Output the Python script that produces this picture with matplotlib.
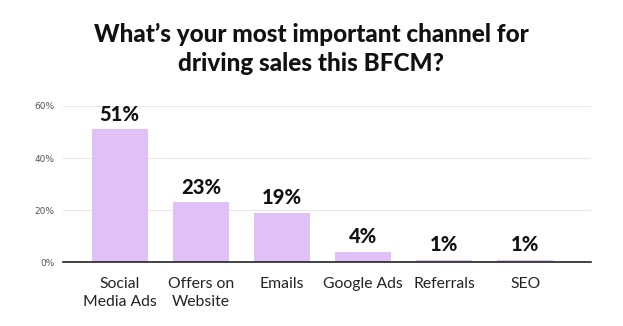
import matplotlib
matplotlib.use("Agg")
import matplotlib.pyplot as plt
from matplotlib.ticker import FuncFormatter

categories = ["Social\nMedia Ads", "Offers on\nWebsite", "Emails", "Google Ads", "Referrals", "SEO"]
values = [51, 23, 19, 4, 1, 1]
yticks = [0, 20, 40, 60]

title = "What\u2019s your most important channel for\ndriving sales this BFCM?"

fig = plt.figure(figsize=(6.23, 3.26), dpi=100)
fig.patch.set_facecolor("white")
ax = fig.add_axes([0.101, 0.196, 0.848, 0.479])

x = list(range(len(categories)))
ax.bar(x, values, width=0.69, color="#DFC0F7", zorder=2)

for xi, v in zip(x, values):
    ax.annotate(f"{v}%", (xi, v), xytext=(0, 4), textcoords="offset points",
                ha="center", va="bottom", fontsize=14.5, fontweight="black",
                family="Lato", color="#111111", clip_on=False)

ax.set_xlim(-0.70, 5.81)
ax.set_ylim(0, 60)
ax.set_yticks(yticks)
ax.yaxis.set_major_formatter(FuncFormatter(lambda v, p: f"{int(v)}%"))
ax.grid(axis="y", color="#e8e8e8", linewidth=0.9, zorder=0)
ax.set_axisbelow(True)

for s in ["top", "right", "left"]:
    ax.spines[s].set_visible(False)
ax.spines["bottom"].set_color("#222222")
ax.spines["bottom"].set_linewidth(1.2)
ax.spines["bottom"].set_zorder(3)

ax.tick_params(axis="y", length=0, labelsize=6.5, labelcolor="#555555", pad=6)
ax.tick_params(axis="x", length=0, pad=11)
ax.set_xticks(x)
ax.set_xticklabels(categories, fontsize=11.3, family="Lato", color="#222222",
                   linespacing=1.3, va="top")

fig.text(0.5, 0.85, title, ha="center", va="center", fontsize=17.5,
         fontweight="black", family="Lato", color="#111111", linespacing=1.3)

fig.savefig("out.png", dpi=100, facecolor="white")
